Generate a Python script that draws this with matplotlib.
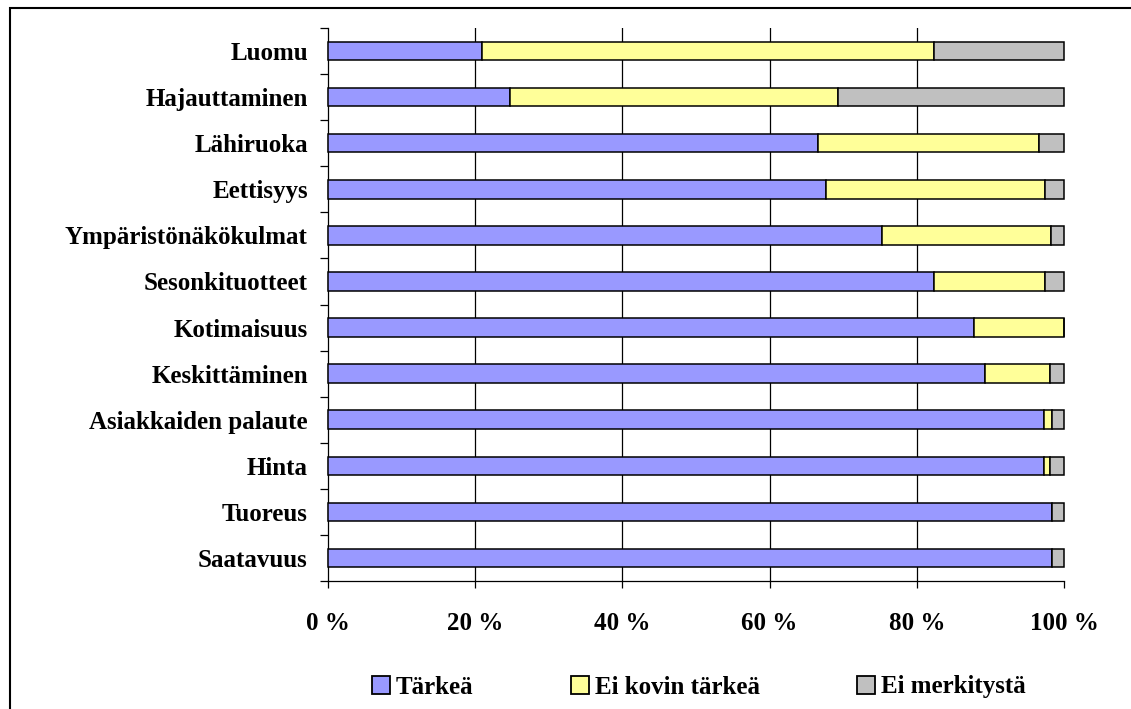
import numpy as np
import matplotlib
matplotlib.use('Agg')
import matplotlib.pyplot as plt
from matplotlib.patches import Rectangle

# Survey answers: share of respondents per importance class (%)
categories = ['Luomu', 'Hajauttaminen', 'Lähiruoka', 'Eettisyys',
              'Ympäristönäkökulmat', 'Sesonkituotteet', 'Kotimaisuus',
              'Keskittäminen', 'Asiakkaiden palaute', 'Hinta', 'Tuoreus',
              'Saatavuus']
tarkea = [20.9, 24.7, 66.6, 67.7, 75.3, 82.4, 87.8, 89.2, 97.3, 97.3, 98.4, 98.4]
ei_kovin = [61.5, 44.6, 30.0, 29.7, 22.9, 15.0, 12.2, 8.9, 1.1, 0.8, 0.0, 0.0]
ei_merkitysta = [17.6, 30.7, 3.4, 2.6, 1.8, 2.6, 0.0, 1.9, 1.6, 1.9, 1.6, 1.6]

series_names = ['Tärkeä', 'Ei kovin tärkeä', 'Ei merkitystä']
colors = ['#9999FF', '#FFFF99', '#C0C0C0']
xticks = [0, 20, 40, 60, 80, 100]

FONT = 'Liberation Serif'
FS = 18

W, H = 1131, 709
fig = plt.figure(figsize=(W / 100, H / 100), dpi=100)
ax = fig.add_axes([328 / W, 1 - 581 / H, (1064 - 328) / W, (581 - 28) / H])

y = np.arange(len(categories))
left = np.zeros(len(categories))
for vals, name, col in zip([tarkea, ei_kovin, ei_merkitysta], series_names, colors):
    bars = ax.barh(y, vals, left=left, height=0.4, color=col, edgecolor='black',
                   linewidth=1.1, label=name, zorder=3)
    for b in bars:
        b.set_clip_on(False)
    left = left + np.array(vals)

ax.set_xlim(0, 100)
ax.set_ylim(len(categories) - 0.5, -0.5)

# vertical gridlines at 20..80 %
for v in xticks[1:-1]:
    ax.axvline(v, color='black', linewidth=0.9, zorder=1)

for s in ['top', 'right']:
    ax.spines[s].set_visible(False)
for s in ['left', 'bottom']:
    ax.spines[s].set_linewidth(0.9)

ax.set_xticks(xticks)
ax.set_xticklabels([f'{v} %' for v in xticks], fontfamily=FONT,
                   fontweight='bold', fontsize=FS)
ax.tick_params(axis='x', direction='out', length=5, width=0.9, pad=17)

ax.set_yticks(y)
ax.set_yticklabels(categories, fontfamily=FONT, fontweight='bold', fontsize=FS)
ax.set_yticks(np.arange(len(categories) + 1) - 0.5, minor=True)
ax.tick_params(axis='y', which='major', length=0, pad=14.5)
ax.tick_params(axis='y', which='minor', direction='out', length=6, width=0.9)

leg = fig.legend(loc='center', bbox_to_anchor=(699 / W, 1 - 687 / H), ncol=3,
                 frameon=False, handlelength=0.7, handleheight=0.7,
                 handletextpad=0.25, columnspacing=3.9,
                 prop={'family': FONT, 'weight': 'bold', 'size': FS})
for h in leg.legend_handles:
    h.set_linewidth(1.3)

# chart area border
fig.patches.append(Rectangle((10 / W, -0.1), 1.2, 1.1 - 8 / H,
                             transform=fig.transFigure, fill=False,
                             edgecolor='black', linewidth=1.5))

fig.savefig('out.png', dpi=100)
